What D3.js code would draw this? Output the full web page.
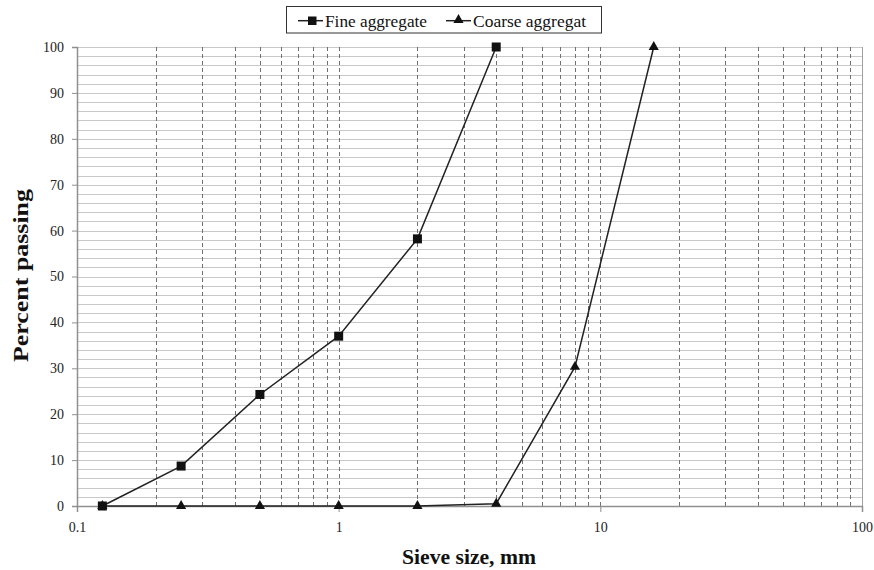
<!DOCTYPE html>
<html><head><meta charset="utf-8">
<script src="https://cdn.jsdelivr.net/npm/d3@7"></script>
<style>body{margin:0;background:#fff} text{font-family:'Liberation Serif','Times New Roman',serif}</style>
</head><body>
<svg id="c" width="874" height="570"></svg>
<script>
const sieveFine = [0.125, 0.25, 0.5, 1, 2, 4];
const fineValues = [0, 8.7, 24.3, 37, 58.2, 100];
const sieveCoarse = [0.125, 0.25, 0.5, 1, 2, 4, 8, 16];
const coarseValues = [0, 0, 0, 0, 0, 0.5, 30.3, 100];
const xTicks = [0.1, 1, 10, 100];
const yTicks = [0, 10, 20, 30, 40, 50, 60, 70, 80, 90, 100];
const seriesNames = ["Fine aggregate", "Coarse aggregat"];

const svg = d3.select("#c");
const L = 77, R = 862, T = 47, B = 506;
const x = d3.scaleLog().domain([0.1, 100]).range([L, R]);
const y = d3.scaleLinear().domain([0, 100]).range([B, T]);
const font = "'Liberation Serif', 'Times New Roman', serif";

// horizontal gridlines every 2
const hg = d3.range(2, 101, 2);
svg.append("g").selectAll("line").data(hg).join("line")
  .attr("x1", L).attr("x2", R).attr("y1", d => Math.round(y(d)) + 0.5).attr("y2", d => Math.round(y(d)) + 0.5)
  .attr("stroke", "#c8c8c8").attr("stroke-width", 1);

// vertical dashed gridlines
const vg = [];
[0.1, 1, 10].forEach(dec => { for (let k = 2; k <= 10; k++) vg.push(dec * k); });
svg.append("g").selectAll("line").data(vg.filter(v => v < 99)).join("line")
  .attr("x1", d => Math.round(x(d)) + 0.5).attr("x2", d => Math.round(x(d)) + 0.5)
  .attr("y1", T).attr("y2", B)
  .attr("stroke", "#707070").attr("stroke-width", 1).attr("stroke-dasharray", "4,3");
// right edge
svg.append("line").attr("x1", R + 0.5).attr("x2", R + 0.5).attr("y1", T).attr("y2", B + 6)
  .attr("stroke", "#a0a0a0");

// axes
const yAxis = d3.axisLeft(y).tickValues(yTicks).tickSize(5).tickFormat(d3.format("d"));
const gy = svg.append("g").attr("transform", `translate(${L},0)`).call(yAxis);
const xAxis = d3.axisBottom(x).tickValues(xTicks).tickSize(6).tickFormat(d => d < 1 ? "0.1" : String(d));
const gx = svg.append("g").attr("transform", `translate(0,${B})`).call(xAxis);
[gx, gy].forEach(g => {
  g.attr("font-family", font);
  g.selectAll(".domain").attr("stroke", "#909090").attr("stroke-width", 1.5);
  g.selectAll(".tick line").attr("stroke", "#909090");
  g.selectAll("text").attr("font-family", font).attr("font-size", 14).attr("fill", "#222");
});
gy.selectAll("text").attr("x", -13);
gx.selectAll("text").attr("y", 16);

// lines
const line = d3.line().x(d => x(d[0])).y(d => y(d[1]));
const fineData = sieveFine.map((s, i) => [s, fineValues[i]]);
const coarseData = sieveCoarse.map((s, i) => [s, coarseValues[i]]);
svg.append("path").datum(coarseData).attr("d", line).attr("fill", "none").attr("stroke", "#222").attr("stroke-width", 1.5);
svg.append("path").datum(fineData).attr("d", line).attr("fill", "none").attr("stroke", "#222").attr("stroke-width", 1.5);

const tri = d3.symbol().type(d3.symbolTriangle).size(45);
svg.append("g").selectAll("path").data(coarseData).join("path")
  .attr("d", tri).attr("transform", d => `translate(${x(d[0])},${y(d[1])})`).attr("fill", "#111");
svg.append("g").selectAll("rect").data(fineData).join("rect")
  .attr("x", d => x(d[0]) - 4.5).attr("y", d => y(d[1]) - 4.5).attr("width", 9).attr("height", 9).attr("fill", "#111");

// axis titles
svg.append("text").attr("x", 402).attr("y", 564)
  .attr("font-family", font).attr("font-weight", "bold").attr("font-size", 21).attr("fill", "#111")
  .attr("textLength", 134).attr("lengthAdjust", "spacingAndGlyphs")
  .text("Sieve size, mm");
svg.append("text").attr("transform", "translate(28,362) rotate(-90)")
  .attr("font-family", font).attr("font-weight", "bold").attr("font-size", 21).attr("fill", "#111")
  .attr("textLength", 173).attr("lengthAdjust", "spacingAndGlyphs")
  .text("Percent passing");

// legend
const lg = svg.append("g");
lg.append("rect").attr("x", 286.5).attr("y", 6.5).attr("width", 315).attr("height", 26.5)
  .attr("fill", "#fff").attr("stroke", "#333");
const lx = [298, 446];
const tx = [325, 473];
const tw = [102, 113];
seriesNames.forEach((n, i) => {
  lg.append("line").attr("x1", lx[i]).attr("x2", lx[i] + 25).attr("y1", 20.7).attr("y2", 20.7)
    .attr("stroke", "#222").attr("stroke-width", 1.5);
  if (i === 0) lg.append("rect").attr("x", lx[i] + 10).attr("y", 16.5).attr("width", 8.5).attr("height", 8.5).attr("fill", "#111");
  else lg.append("path").attr("d", tri).attr("transform", `translate(${lx[i] + 12.5},20)`).attr("fill", "#111");
  lg.append("text").attr("x", tx[i]).attr("y", 26.5).attr("font-family", font).attr("font-size", 17)
    .attr("textLength", tw[i]).attr("lengthAdjust", "spacingAndGlyphs")
    .attr("fill", "#111").text(n);
});
</script>
</body></html>
